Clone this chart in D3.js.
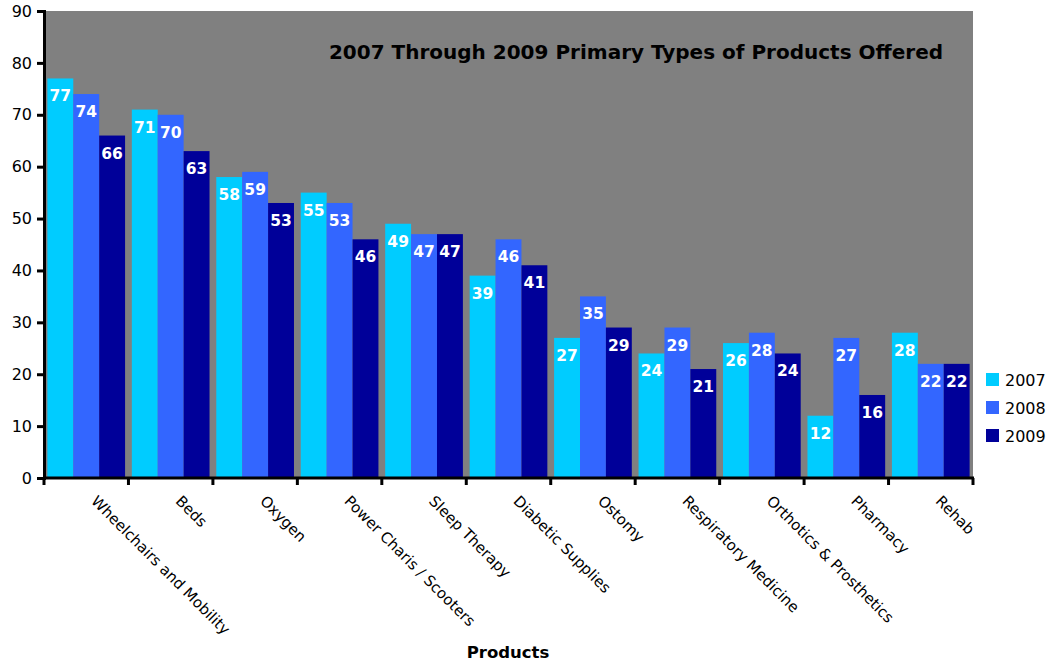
<!DOCTYPE html>
<html><head><meta charset="utf-8">
<script src="https://cdn.jsdelivr.net/npm/d3@7"></script>
<style>body{margin:0;background:#fff}svg{display:block}</style>
</head><body>
<script>
const categories = ["Wheelchairs and Mobility","Beds","Oxygen","Power Charis / Scooters","Sleep Therapy","Diabetic Supplies","Ostomy","Respiratory Medicine","Orthotics & Prosthetics","Pharmacy","Rehab"];
const seriesNames = ["2007","2008","2009"];
const values2007 = [77,71,58,55,49,39,27,24,26,12,28];
const values2008 = [74,70,59,53,47,46,35,29,28,27,22];
const values2009 = [66,63,53,46,47,41,29,21,24,16,22];
const yTicks = [0,10,20,30,40,50,60,70,80,90];
const colors = ["#00CCFF","#3366FF","#000099"];
const title = "2007 Through 2009 Primary Types of Products Offered";
const xTitle = "Products";

const series = [values2007, values2008, values2009];
const W = 1047, H = 661;
const L = 44, R = 973, T = 11, B = 478;
const font = "Verdana, 'DejaVu Sans', sans-serif";

const svg = d3.select("body").append("svg").attr("width", W).attr("height", H);

const x0 = d3.scaleBand().domain(categories).range([L, R]).paddingInner(0.08).paddingOuter(0.04);
const x1 = d3.scaleBand().domain(seriesNames).range([0, x0.bandwidth()]);
const xTickScale = d3.scaleBand().domain(categories).range([L, R]);
const y = d3.scaleLinear().domain([0, 90]).range([B, T]);

svg.append("rect").attr("x", L).attr("y", T).attr("width", R - L).attr("height", B - T).attr("fill", "#808080");

const g = svg.append("g");
categories.forEach((c, i) => {
  seriesNames.forEach((s, j) => {
    const v = series[j][i];
    g.append("rect").attr("x", x0(c) + x1(s)).attr("y", y(v))
      .attr("width", x1.bandwidth()).attr("height", y(0) - y(v)).attr("fill", colors[j]);
    g.append("text").attr("x", x0(c) + x1(s) + x1.bandwidth() / 2).attr("y", y(v) + 23)
      .attr("text-anchor", "middle").attr("fill", "#fff").attr("font-family", font)
      .attr("font-weight", "bold").attr("font-size", 15.5).text(v);
  });
});

// Y axis
const yAxis = d3.axisLeft(y).tickValues(yTicks).tickSize(7).tickPadding(5);
const ya = svg.append("g").attr("transform", `translate(${L},0)`).call(yAxis);
ya.select(".domain").attr("stroke", "#000").attr("stroke-width", 3);
ya.selectAll(".tick line").attr("stroke", "#000").attr("stroke-width", 3);
ya.selectAll("text").attr("font-family", font).attr("font-size", 16).attr("fill", "#000");

// X axis (ticks at category boundaries)
const xa = svg.append("g").attr("transform", `translate(0,${B})`);
xa.append("line").attr("x1", L - 1).attr("x2", R + 1).attr("y1", 0).attr("y2", 0).attr("stroke", "#000").attr("stroke-width", 3);
const bounds = categories.map(c => xTickScale(c)).concat([R]);
xa.selectAll("line.tk").data(bounds).join("line").attr("class", "tk")
  .attr("x1", d => d).attr("x2", d => d).attr("y1", 0).attr("y2", 7).attr("stroke", "#000").attr("stroke-width", 3);
xa.selectAll("text.cl").data(categories).join("text").attr("class", "cl")
  .attr("transform", d => `translate(${xTickScale(d) + xTickScale.bandwidth() / 2 + 4},${24}) rotate(45)`)
  .attr("font-family", font).attr("font-size", 15).attr("fill", "#000").text(d => d);

// Title
svg.append("text").attr("x", 636).attr("y", 59).attr("text-anchor", "middle")
  .attr("font-family", font).attr("font-weight", "bold").attr("font-size", 20).attr("fill", "#000").text(title);

// X title
svg.append("text").attr("x", 508).attr("y", 658).attr("text-anchor", "middle")
  .attr("font-family", font).attr("font-weight", "bold").attr("font-size", 16.5).attr("fill", "#000").text(xTitle);

// Legend
const lg = svg.append("g");
seriesNames.forEach((s, j) => {
  lg.append("rect").attr("x", 986).attr("y", 373 + j * 28).attr("width", 13).attr("height", 13).attr("fill", colors[j]);
  lg.append("text").attr("x", 1005).attr("y", 386 + j * 28).attr("font-family", font).attr("font-size", 16).attr("fill", "#000").text(s);
});
</script>
</body></html>
